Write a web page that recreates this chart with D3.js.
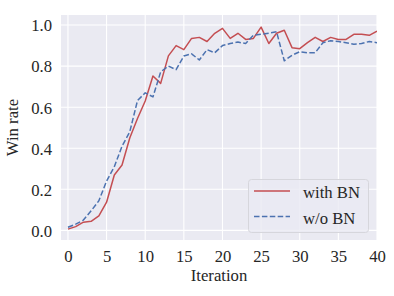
<!DOCTYPE html>
<html>
<head>
<meta charset="utf-8">
<script src="https://cdn.jsdelivr.net/npm/d3@7"></script>
<style>
  body { margin: 0; background: #fff; }
  text { font-family: "Liberation Serif", "Times New Roman", serif; fill: #262626; }
</style>
</head>
<body>
<div id="chart"></div>
<script>
// data
var iterations = d3.range(0, 41);
var withBN = [0.006, 0.018, 0.04, 0.044, 0.07, 0.137, 0.27, 0.318, 0.45, 0.545,
    0.63, 0.752, 0.716, 0.85, 0.90, 0.88, 0.935, 0.94, 0.92, 0.96,
    0.984, 0.935, 0.96, 0.93, 0.935, 0.99, 0.91, 0.96, 0.975, 0.89,
    0.885, 0.914, 0.94, 0.92, 0.94, 0.93, 0.93, 0.955, 0.955, 0.95, 0.97];
var withoutBN = [0.015, 0.03, 0.05, 0.095, 0.144, 0.24, 0.31, 0.41, 0.48, 0.632,
    0.67, 0.65, 0.772, 0.80, 0.783, 0.849, 0.86, 0.83, 0.88, 0.865,
    0.90, 0.91, 0.917, 0.91, 0.95, 0.955, 0.96, 0.967, 0.826, 0.853,
    0.87, 0.865, 0.865, 0.914, 0.924, 0.92, 0.914, 0.907, 0.91, 0.92, 0.914];
var seriesNames = ["with BN", "w/o BN"];
var xTicks = [0, 5, 10, 15, 20, 25, 30, 35, 40];
var yTicks = [0.0, 0.2, 0.4, 0.6, 0.8, 1.0];

var W = 394, H = 296;
var margin = { top: 15, right: 17, bottom: 56, left: 61 };
var width = W - margin.left - margin.right;
var height = H - margin.top - margin.bottom;

var svg = d3.select("#chart").append("svg")
    .attr("width", W)
    .attr("height", H);

var g = svg.append("g")
    .attr("transform", "translate(" + margin.left + "," + margin.top + ")");

var x = d3.scaleLinear().domain([-0.9, 40]).range([0, width]);
var y = d3.scaleLinear().domain([-0.047, 1.049]).range([height, 0]);

// background
g.append("rect")
    .attr("width", width)
    .attr("height", height)
    .attr("fill", "#eaeaf2");

// grid
g.selectAll(".vgrid")
    .data(xTicks)
    .join("line")
    .attr("x1", d => x(d)).attr("x2", d => x(d))
    .attr("y1", 0).attr("y2", height)
    .attr("stroke", "#fff").attr("stroke-width", 1.1);
g.selectAll(".hgrid")
    .data(yTicks)
    .join("line")
    .attr("class", "hgrid")
    .attr("y1", d => y(d)).attr("y2", d => y(d))
    .attr("x1", 0).attr("x2", width)
    .attr("stroke", "#fff").attr("stroke-width", 1.1);

// axes (labels only, seaborn darkgrid has no spines)
var xAxis = g.append("g")
    .attr("transform", "translate(0," + height + ")")
    .call(d3.axisBottom(x).tickValues(xTicks).tickSize(0).tickPadding(10).tickFormat(d3.format("d")));
var yAxis = g.append("g")
    .call(d3.axisLeft(y).tickValues(yTicks).tickSize(0).tickPadding(9).tickFormat(d3.format(".1f")));
[xAxis, yAxis].forEach(function (a) {
    a.select(".domain").remove();
    a.selectAll("text")
        .style("font-family", "'Liberation Serif', 'Times New Roman', serif")
        .style("font-size", "16.7px")
        .attr("fill", "#262626");
});
yAxis.selectAll("text").attr("dy", "0.35em");

g.append("text")
    .attr("x", width / 2)
    .attr("y", height + 41)
    .attr("text-anchor", "middle")
    .style("font-size", "16.7px")
    .text("Iteration");
g.append("text")
    .attr("transform", "translate(" + (-43) + "," + (height / 2) + ") rotate(-90)")
    .attr("text-anchor", "middle")
    .style("font-size", "16.7px")
    .text("Win rate");

// clip
svg.append("defs").append("clipPath").attr("id", "clip")
    .append("rect").attr("width", width).attr("height", height);

var line = d3.line()
    .x((d, i) => x(iterations[i]))
    .y(d => y(d));

var colors = ["#c44e52", "#4c72b0"];
var dashes = [null, "5.5,2.4"];
var plot = g.append("g").attr("clip-path", "url(#clip)");
[withBN, withoutBN].forEach(function (s, k) {
    plot.append("path")
        .datum(s)
        .attr("d", line)
        .attr("fill", "none")
        .attr("stroke", colors[k])
        .attr("stroke-width", 1.5)
        .attr("stroke-dasharray", dashes[k])
        .attr("stroke-linejoin", "round");
});

// legend
var lg = g.append("g").attr("transform", "translate(" + (248 - margin.left) + "," + (179 - margin.top) + ")");
lg.append("rect")
    .attr("x", 0.5).attr("y", 0.5)
    .attr("width", 120).attr("height", 53)
    .attr("rx", 3).attr("ry", 3)
    .attr("fill", "#eaeaf2").attr("fill-opacity", 0.8)
    .attr("stroke", "#d6d6dc").attr("stroke-width", 1);
seriesNames.forEach(function (name, k) {
    var ly = 12 + k * 25.5;
    lg.append("line")
        .attr("x1", 6).attr("x2", 42)
        .attr("y1", ly).attr("y2", ly)
        .attr("stroke", colors[k])
        .attr("stroke-width", 1.5)
        .attr("stroke-dasharray", dashes[k]);
    lg.append("text")
        .attr("x", 55)
        .attr("y", ly + 7.3)
        .style("font-size", "16.7px")
        .text(name);
});
</script>
</body>
</html>
